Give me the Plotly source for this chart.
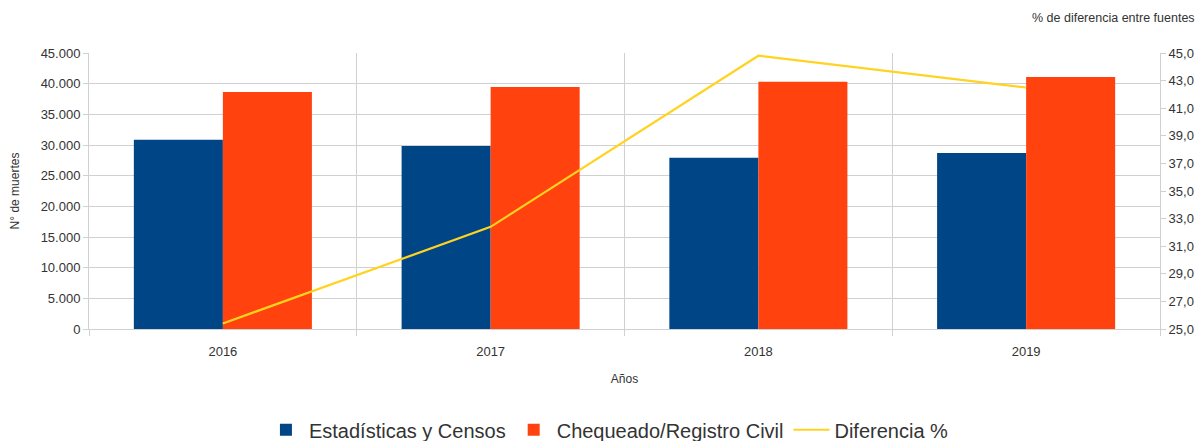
import plotly.graph_objects as go

years = ["2016", "2017", "2018", "2019"]
estadisticas = [30860, 29840, 27930, 28700]
chequeado = [38640, 39460, 40320, 41090]
diferencia = [25.4, 32.4, 44.8, 42.5]

BLUE = "#004586"
ORANGE = "#FF420E"
YELLOW = "#FFD320"
GRID = "#d0d0d0"
TXT = "#333333"
FONT = "Liberation Sans, Arial, sans-serif"

fig = go.Figure()
fig.add_trace(go.Bar(x=years, y=estadisticas, name="Estadísticas y Censos",
                     marker=dict(color=BLUE, line=dict(width=0))))
fig.add_trace(go.Bar(x=years, y=chequeado, name="Chequeado/Registro Civil",
                     marker=dict(color=ORANGE, line=dict(width=0))))
fig.add_trace(go.Scatter(x=years, y=diferencia, name="Diferencia %", mode="lines",
                         line=dict(color=YELLOW, width=2.2), yaxis="y2"))

fig.update_layout(
    width=1195, height=433,
    margin=dict(l=81, r=43, t=45, b=112, autoexpand=False),
    paper_bgcolor="white", plot_bgcolor="white",
    font=dict(family=FONT, color=TXT, size=13),
    separators=",.",
    barmode="group", bargap=0.335, bargroupgap=0,
    showlegend=True,
    legend=dict(orientation="h", x=0.485, xanchor="center", y=-0.365, yanchor="middle",
                font=dict(size=20, color=TXT), traceorder="normal",
                itemwidth=36),
    xaxis=dict(
        type="category", tickson="boundaries", automargin=False,
        showgrid=True, gridcolor=GRID, gridwidth=1,
        showline=True, linecolor=GRID, linewidth=1,
        ticks="outside", ticklen=6, tickcolor=GRID,
        ticklabelstandoff=10,
        tickfont=dict(size=13, color=TXT),
        title=dict(text="Años", font=dict(size=12, color=TXT), standoff=17),
    ),
    yaxis=dict(
        range=[0, 45000], dtick=5000, tickformat=",.0f", automargin=False,
        showgrid=True, gridcolor=GRID, gridwidth=1,
        showline=True, linecolor=GRID, linewidth=1,
        ticks="outside", ticklen=5, tickcolor=GRID,
        tickfont=dict(size=13, color=TXT), zeroline=False,
        title=dict(text="N° de muertes", font=dict(size=12, color=TXT), standoff=19),
    ),
    yaxis2=dict(
        range=[25, 45], tick0=25, dtick=2, tickformat=".1f", automargin=False,
        overlaying="y", side="right", showgrid=False, zeroline=False,
        showline=True, linecolor=GRID, linewidth=1,
        ticks="outside", ticklen=5, tickcolor=GRID,
        tickfont=dict(size=13, color=TXT),
    ),
    annotations=[dict(text="% de diferencia entre fuentes", xref="paper", yref="paper",
                      x=1.0 + 37/1071, xanchor="right", y=1 + 35/276, yanchor="middle",
                      showarrow=False, font=dict(size=12.5, color=TXT))],
)

fig.write_html("out.html")
